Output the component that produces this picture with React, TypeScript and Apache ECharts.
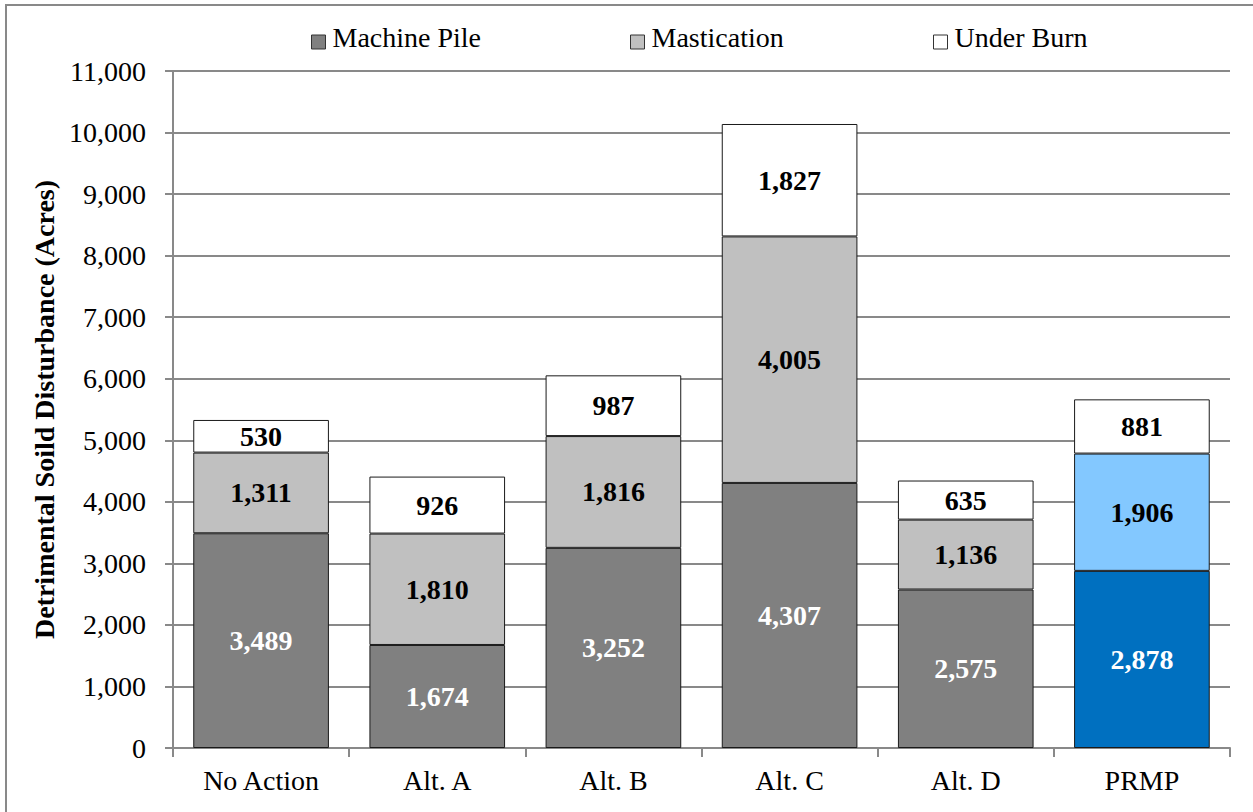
import React, { useEffect, useRef } from "react";
import * as echarts from "echarts";

// Acres of detrimental soil disturbance by alternative and treatment type
const categories = ["No Action", "Alt. A", "Alt. B", "Alt. C", "Alt. D", "PRMP"];
const machinePile = [3489, 1674, 3252, 4307, 2575, 2878];
const mastication = [1311, 1810, 1816, 4005, 1136, 1906];
const underBurn = [530, 926, 987, 1827, 635, 881];
const seriesNames = ["Machine Pile", "Mastication", "Under Burn"];

const FONT = "Times New Roman, Liberation Serif, DejaVu Serif, serif";
const GRID_GRAY = "#898989";
const BORDER = "#1a1a1a";

// The preferred alternative is highlighted in blue
const highlightIndex = categories.indexOf("PRMP");
const highlightColors = ["#0070c0", "#83c8ff", "#ffffff"];
const baseColors = ["#808080", "#c0c0c0", "#ffffff"];
const labelColors = ["#ffffff", "#000000", "#000000"];

// Legend swatch: a 14px square sitting a little below the text's middle
// (the lone move-to stretches the icon's bounds upward).
const SWATCH = "path://M0,0M0,10L14,10L14,24L0,24Z";

const fmt = (v: number) => v.toLocaleString("en-US");

export default function App() {
  const ref = useRef<HTMLDivElement>(null);

  useEffect(() => {
    if (!ref.current) return;
    const chart = echarts.init(ref.current, null, { renderer: "svg" });

    const values = [machinePile, mastication, underBurn];

    const series = values.map((arr, si) => ({
      name: seriesNames[si],
      type: "bar" as const,
      stack: "total",
      barWidth: "77%",
      itemStyle: {
        color: baseColors[si],
        borderColor: BORDER,
        borderWidth: 1,
      },
      label: {
        show: true,
        position: "inside" as const,
        fontFamily: FONT,
        fontSize: 28,
        fontWeight: "bold" as const,
        color: labelColors[si],
        formatter: (p: any) => fmt(p.value),
      },
      data: arr.map((v, i) =>
        i === highlightIndex
          ? { value: v, itemStyle: { color: highlightColors[si] } }
          : v
      ),
    }));

    const legendLefts = [311, 630, 933];

    chart.setOption({
      animation: false,
      backgroundColor: "#ffffff",
      textStyle: { fontFamily: FONT },
      graphic: [
        {
          type: "rect",
          shape: { x: 6, y: 5, width: 1270, height: 830 },
          style: { fill: "none", stroke: GRID_GRAY, lineWidth: 2 },
          silent: true,
        },
      ],
      legend: seriesNames.map((name, i) => ({
        data: [name],
        left: legendLefts[i],
        top: 23,
        padding: 0,
        icon: SWATCH,
        itemWidth: 14,
        itemHeight: 24,
        itemStyle: { borderColor: "#333333", borderWidth: 1 },
        textStyle: {
          fontFamily: FONT,
          fontSize: 28,
          color: "#000000",
          padding: [0, 0, 0, 2],
        },
        selectedMode: false,
      })),
      grid: { left: 173, right: 23, top: 71, bottom: 64 },
      xAxis: {
        type: "category",
        data: categories,
        axisLine: { lineStyle: { color: GRID_GRAY, width: 2 } },
        axisTick: {
          show: true,
          length: 9,
          lineStyle: { color: GRID_GRAY, width: 2 },
        },
        axisLabel: {
          fontFamily: FONT,
          fontSize: 28,
          color: "#000000",
          margin: 18,
        },
      },
      yAxis: {
        type: "value",
        min: 0,
        max: 11000,
        interval: 1000,
        name: "Detrimental Soild Disturbance (Acres)",
        nameLocation: "middle",
        nameRotate: 90,
        nameGap: 110,
        nameTextStyle: {
          fontFamily: FONT,
          fontSize: 28,
          fontWeight: "bold",
          color: "#000000",
        },
        axisLine: { show: true, lineStyle: { color: GRID_GRAY, width: 2 } },
        axisTick: {
          show: true,
          length: 8,
          lineStyle: { color: GRID_GRAY, width: 2 },
        },
        splitLine: { show: true, lineStyle: { color: GRID_GRAY, width: 2 } },
        axisLabel: {
          fontFamily: FONT,
          fontSize: 28,
          color: "#000000",
          margin: 27,
          formatter: (v: number) => fmt(v),
        },
      },
      series,
    });

    return () => chart.dispose();
  }, []);

  return (
    <div
      ref={ref}
      style={{ position: "fixed", left: 0, top: 0, width: 1253, height: 812 }}
    />
  );
}
